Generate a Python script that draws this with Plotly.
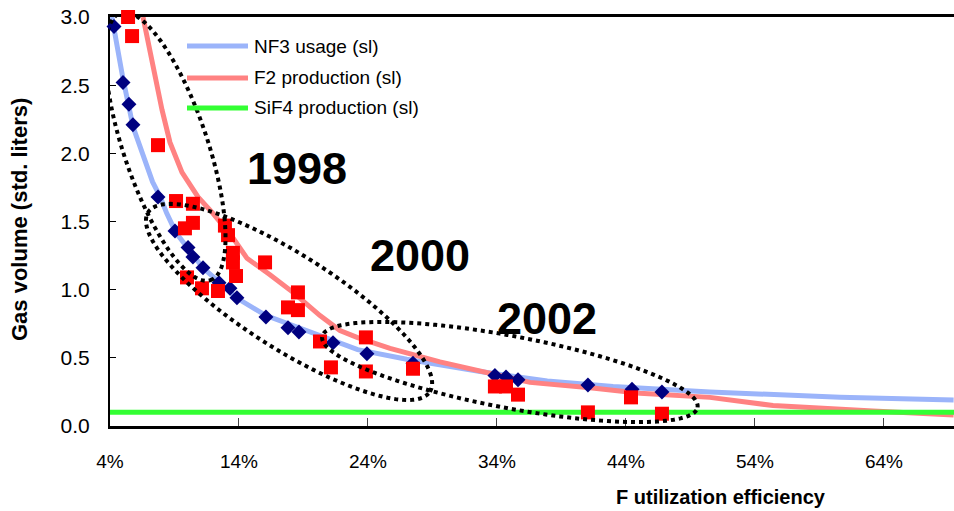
import numpy as np
import plotly.graph_objects as go

# ---- measured points (F utilization efficiency in %, gas volume in std. liters)
nf3_pts_x = [4.31, 5.01, 5.47, 5.78, 7.72, 9.04, 10.05, 10.43, 11.21, 12.45, 13.30, 13.84,
             16.09, 17.80, 18.65, 21.29, 23.92, 27.49, 33.84, 34.70, 35.63, 41.05, 44.47, 46.79]
nf3_pts_y = [2.93, 2.52, 2.36, 2.21, 1.68, 1.43, 1.31, 1.24, 1.16, 1.05, 1.01, 0.94,
             0.80, 0.72, 0.69, 0.61, 0.53, 0.46, 0.37, 0.36, 0.34, 0.30, 0.27, 0.25]

f2_pts_x = [5.40, 5.71, 7.72, 9.12, 10.43, 10.43, 9.81, 12.91, 13.15, 13.53, 13.53, 13.77,
            9.97, 11.13, 12.37, 16.02, 18.57, 17.80, 18.57, 20.28, 21.13, 23.84, 23.84,
            27.49, 33.84, 34.70, 35.63, 41.05, 44.39, 46.79]
f2_pts_y = [3.00, 2.86, 2.06, 1.65, 1.63, 1.49, 1.45, 1.47, 1.40, 1.27, 1.20, 1.10,
            1.09, 1.01, 0.99, 1.20, 0.98, 0.87, 0.85, 0.62, 0.43, 0.65, 0.40,
            0.42, 0.29, 0.29, 0.23, 0.10, 0.21, 0.09]

# ---- model curves (std. liters)
nf3_line_x = [4.15, 5.0, 5.8, 6.6, 7.3, 7.9, 8.4, 9.1, 10.1, 11.2, 12.4, 13.8, 16.1, 17.8,
              20.3, 23.2, 27.0, 29.6, 32.7, 37.9, 43.0, 50.5, 60.6, 69.4]
nf3_line_y = [3.0, 2.55, 2.19, 1.97, 1.79, 1.68, 1.56, 1.42, 1.30, 1.16, 1.06, 0.94, 0.81, 0.75,
              0.66, 0.56, 0.49, 0.45, 0.40, 0.33, 0.29, 0.25, 0.21, 0.19]

f2_line_x = [6.56, 7.33, 8.03, 8.65, 9.58, 10.82, 11.98, 13.46, 14.62, 16.40, 18.19, 20.28,
             21.83, 23.15, 25.71, 29.58, 32.68, 36.56, 41.21, 45.09, 50.51, 55.40, 63.15, 69.4]
f2_line_y = [3.0, 2.63, 2.32, 2.08, 1.86, 1.68, 1.56, 1.39, 1.23, 1.11, 0.98, 0.81,
             0.70, 0.65, 0.57, 0.47, 0.40, 0.32, 0.28, 0.24, 0.21, 0.15, 0.11, 0.08]

sif4_line_x = [4.0, 69.43]
sif4_line_y = [0.10, 0.10]

x_ticks = [4, 14, 24, 34, 44, 54, 64]
x_tick_labels = ["4%", "14%", "24%", "34%", "44%", "54%", "64%"]
y_ticks = [0.0, 0.5, 1.0, 1.5, 2.0, 2.5, 3.0]

legend_names = ["NF3 usage (sl)", "F2 production (sl)", "SiF4 production (sl)"]

# year groups: label, label position, ellipse centre (data), half-axes (px), tilt (deg)
years = ["1998", "2000", "2002"]
year_label_x = [18.5, 28.0, 37.9]
year_label_y = [1.89, 1.25, 0.79]
ell_cx = [8.3, 17.88, 35.0]
ell_cy = [2.05, 0.91, 0.396]
ell_a = [141, 167, 191]
ell_b = [42, 47, 36]
ell_tilt = [-71.4, -32.5, -10.7]

# ---- layout geometry
W, H = 954, 511
ML, MR, MT, MB = 110, 0, 17, 85
X_RANGE = [4.0, 69.43]
Y_RANGE = [0.0, 3.0]
PW, PH = W - ML - MR, H - MT - MB
px_x = PW / (X_RANGE[1] - X_RANGE[0])
px_y = PH / (Y_RANGE[1] - Y_RANGE[0])

BLUE = "rgb(155,180,250)"
PINK = "rgb(255,130,130)"
GREEN = "rgb(51,255,51)"
NAVY = "#000080"
RED = "#FF0000"
FONT = "Liberation Sans, Arial, sans-serif"

fig = go.Figure()

fig.add_trace(go.Scatter(x=nf3_line_x, y=nf3_line_y, mode="lines",
                         line=dict(color=BLUE, width=5), showlegend=False))
fig.add_trace(go.Scatter(x=f2_line_x, y=f2_line_y, mode="lines",
                         line=dict(color=PINK, width=5), showlegend=False))
fig.add_trace(go.Scatter(x=sif4_line_x, y=sif4_line_y, mode="lines",
                         line=dict(color=GREEN, width=5), showlegend=False))
fig.add_trace(go.Scatter(x=nf3_pts_x, y=nf3_pts_y, mode="markers", cliponaxis=False,
                         marker=dict(symbol="diamond", size=11.5, color=NAVY, line=dict(width=0)),
                         showlegend=False))
fig.add_trace(go.Scatter(x=f2_pts_x, y=f2_pts_y, mode="markers", cliponaxis=False,
                         marker=dict(symbol="square", size=14, color=RED, line=dict(width=0)),
                         showlegend=False))


def ellipse_path(cx, cy, a, b, tilt, n=160):
    t = np.linspace(0, 2 * np.pi, n)
    th = np.radians(tilt)
    ex = a * np.cos(t) * np.cos(th) - b * np.sin(t) * np.sin(th)
    ey = a * np.cos(t) * np.sin(th) + b * np.sin(t) * np.cos(th)
    xs = cx + ex / px_x
    ys = cy + ey / px_y
    return "M " + " L ".join(f"{x:.4f},{y:.4f}" for x, y in zip(xs, ys)) + " Z"


shapes = []
for cx, cy, a, b, tl in zip(ell_cx, ell_cy, ell_a, ell_b, ell_tilt):
    shapes.append(dict(type="path", xref="x", yref="y", path=ellipse_path(cx, cy, a, b, tl),
                       line=dict(color="black", width=4, dash="dot"), layer="above"))

annotations = []
for txt, lx, ly in zip(years, year_label_x, year_label_y):
    annotations.append(dict(x=lx, y=ly, xref="x", yref="y", text=f"<b>{txt}</b>",
                            showarrow=False, xanchor="center", yanchor="middle",
                            font=dict(family=FONT, size=45, color="black")))

# legend drawn as line samples with labels
leg_colors = [BLUE, PINK, GREEN]
leg_y_px = [46, 78, 108]
for name, col, ypx in zip(legend_names, leg_colors, leg_y_px):
    yp = (H - MB - ypx) / PH
    shapes.append(dict(type="line", xref="paper", yref="paper",
                       x0=(187 - ML) / PW, x1=(248 - ML) / PW,
                       y0=yp, y1=yp, line=dict(color=col, width=5)))
    annotations.append(dict(x=(252 - ML) / PW, y=yp, xref="paper", yref="paper",
                            text=name, showarrow=False, xanchor="left", yanchor="middle",
                            font=dict(family=FONT, size=19, color="black")))

# axis titles
annotations.append(dict(x=(721 - ML) / PW, y=(H - MB - 497) / PH,
                        xref="paper", yref="paper", text="<b>F utilization efficiency</b>",
                        showarrow=False, xanchor="center", yanchor="middle",
                        font=dict(family=FONT, size=20, color="black")))
annotations.append(dict(x=(19 - ML) / PW, y=(H - MB - 220) / PH,
                        xref="paper", yref="paper", text="<b>Gas volume (std. liters)</b>",
                        textangle=-90, showarrow=False, xanchor="center", yanchor="middle",
                        font=dict(family=FONT, size=22, color="black")))

fig.update_layout(
    width=W, height=H, autosize=False,
    margin=dict(l=ML, r=MR, t=MT, b=MB, pad=0),
    paper_bgcolor="white", plot_bgcolor="white",
    showlegend=False,
    shapes=shapes, annotations=annotations,
    xaxis=dict(range=X_RANGE, tickvals=x_ticks, ticktext=x_tick_labels,
               showgrid=False, zeroline=False, layer="below traces",
               showline=True, linecolor="black", linewidth=3, mirror=True,
               ticks="inside", ticklen=8, tickwidth=1, tickcolor="#444",
               ticklabelstandoff=16,
               tickfont=dict(family=FONT, size=19, color="black")),
    yaxis=dict(range=Y_RANGE, tickvals=y_ticks, tickformat=".1f",
               showgrid=False, zeroline=False, layer="below traces",
               showline=True, linecolor="black", linewidth=2,
               ticks="inside", ticklen=6, tickwidth=1, tickcolor="black",
               ticklabelstandoff=14,
               tickfont=dict(family=FONT, size=21, color="black")),
)

fig.write_html("out.html")
